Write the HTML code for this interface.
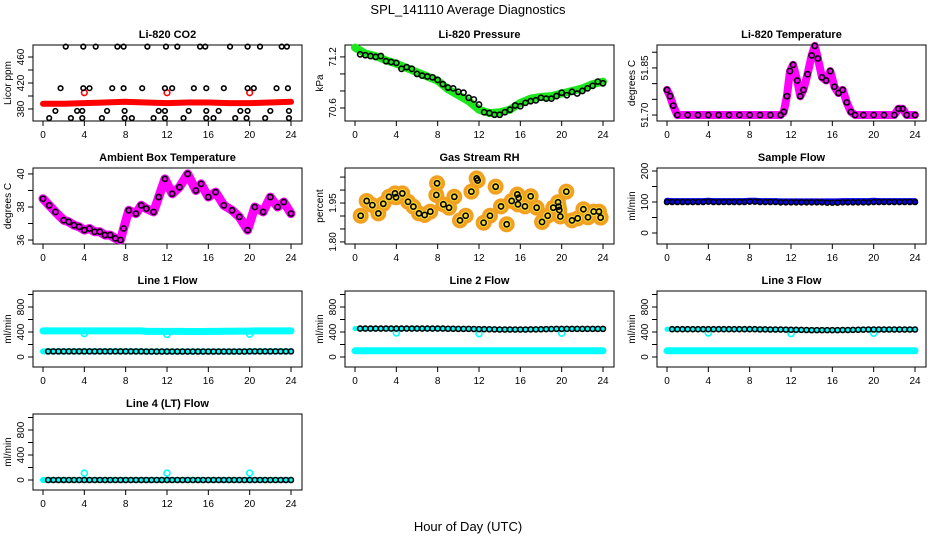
<!DOCTYPE html>
<html><head><meta charset="utf-8">
<style>
html,body{margin:0;padding:0;background:#fff;}
svg{display:block;font-family:"Liberation Sans",sans-serif;}
</style></head>
<body>
<svg id="c" width="936" height="540" viewBox="0 0 936 540" xmlns="http://www.w3.org/2000/svg">
<text x="468" y="14" text-anchor="middle" font-size="13">SPL_141110  Average Diagnostics</text>
<text x="468" y="531" text-anchor="middle" font-size="13">Hour of Day (UTC)</text>
</svg>
<script>
// ---------- data ----------
const xTicks = [0,4,8,12,16,20,24];
const co2RedH = [0,2,4,6,8,10,12,14,16,18,20,22,24];
const co2RedV = [388,388,389,390,391,390,389,390,390,389,389,390,391];
const co2OutH = [4,12,20];
const co2OutV = [405,405,405];
const co2BlkH = [2.2,3.9,5.1,7.2,7.8,10.1,11.9,13.0,15.2,15.7,18.1,19.8,21.0,23.1,23.6,
 1.7,3.9,4.5,6.7,7.8,9.6,11.8,12.5,14.6,15.8,17.5,19.8,20.4,22.6,23.7,
 1.2,3.3,3.8,6.2,7.9,11.2,11.8,14.1,15.8,17.0,19.1,19.8,22.0,23.8,
 0.6,2.7,3.8,5.7,7.9,8.6,10.7,11.8,13.6,15.8,16.5,18.6,19.7,21.5,23.8];
const co2BlkV = [476,476,476,476,476,476,476,476,476,476,476,476,476,476,476,
 412,412,412,412,412,412,412,412,412,412,412,412,412,412,412,
 377,377,377,377,377,377,377,377,377,377,377,377,377,377,
 366,366,366,366,366,366,366,366,366,366,366,366,366,366,366];

const pressH = [0,1,2,3,4,5,6,7,8,9,10,11,12,13,14,15,16,17,18,19,20,21,22,23,24];
const pressV = [71.31,71.24,71.21,71.16,71.12,71.07,71.02,70.97,70.92,70.82,70.75,70.68,70.58,70.54,70.55,70.58,70.66,70.71,70.73,70.74,70.77,70.80,70.83,70.88,70.91];
const pressBH = [0.5,1,1.5,2,2.5,3,3.5,4,4.5,5,5.5,6,6.5,7,7.5,8,8.5,9,9.5,10,10.5,11,11.5,12,12.5,13,13.5,14,14.5,15,15.5,16,16.5,17,17.5,18,18.5,19,19.5,20,20.5,21,21.5,22,22.5,23,23.5,24];
const pressBV = [71.23,71.22,71.21,71.20,71.21,71.15,71.14,71.13,71.06,71.08,71.06,71.00,70.98,70.97,70.96,70.93,70.88,70.84,70.83,70.79,70.78,70.72,70.70,70.64,70.55,70.54,70.52,70.52,70.55,70.58,70.63,70.62,70.66,70.68,70.69,70.72,70.71,70.71,70.74,70.78,70.75,70.79,70.77,70.80,70.83,70.86,70.91,70.89];

const tempH = [0,0.3,0.6,1,2,3,4,5,6,7,8,9,10,11,11.3,11.6,11.9,12.2,12.6,12.9,13.2,13.6,14,14.3,14.6,15,15.4,15.8,16.2,16.6,17,17.4,17.8,18.2,19,20,21,22,22.4,22.8,23.2,24];
const tempV = [51.78,51.76,51.73,51.70,51.70,51.70,51.70,51.70,51.70,51.70,51.70,51.70,51.70,51.70,51.71,51.76,51.84,51.86,51.81,51.76,51.78,51.83,51.89,51.92,51.88,51.82,51.81,51.84,51.79,51.77,51.78,51.74,51.71,51.70,51.70,51.70,51.70,51.70,51.72,51.72,51.70,51.70];

const ambH = [0,0.6,1.2,2,2.5,3,3.5,4,4.5,5,5.5,6,6.5,7,7.5,7.8,8.3,9,9.5,10,10.7,11.2,11.8,12.5,13.2,14,14.8,15.3,16,16.7,17.5,18.3,19,19.8,20.5,21.3,22,22.7,23.3,24];
const ambV = [38.5,38.1,37.7,37.2,37.1,36.9,36.8,36.6,36.7,36.5,36.5,36.3,36.3,36.1,36.0,36.7,37.8,37.6,38.1,37.9,37.7,38.6,39.7,38.8,39.2,40.0,39.0,39.4,38.6,38.9,38.1,37.8,37.4,36.6,38.0,37.7,38.6,38.0,38.3,37.6];

const rhH = [0.55,1.13,1.68,2.26,2.74,3.29,3.87,3.97,4.58,5.13,5.65,6.19,6.74,7.29,7.87,7.94,8.55,9.10,9.61,10.16,10.71,11.26,11.77,11.87,12.45,13.06,13.61,14.13,14.68,15.16,15.71,15.84,15.77,16.45,17.00,17.58,18.10,18.65,19.19,19.65,19.71,19.77,19.87,20.45,21.00,21.55,22.10,22.55,23.10,23.61,23.77];
const rhV = [1.901,1.958,1.942,1.910,1.947,1.974,1.987,1.972,1.987,1.955,1.936,1.910,1.904,1.917,1.981,2.026,1.945,1.932,1.974,1.883,1.901,1.994,2.045,2.037,1.874,1.901,2.013,1.937,1.868,1.958,1.983,1.970,1.945,1.937,1.976,1.932,1.877,1.901,1.932,1.953,1.936,1.923,1.898,1.994,1.883,1.891,1.926,1.895,1.917,1.917,1.894];

const flowH = [0,0.5,1,1.5,2,2.5,3,3.5,4,4.5,5,5.5,6,6.5,7,7.5,8,8.5,9,9.5,10,10.5,11,11.5,12,12.5,13,13.5,14,14.5,15,15.5,16,16.5,17,17.5,18,18.5,19,19.5,20,20.5,21,21.5,22,22.5,23,23.5,24];
const sampleBlue = [104,103,103,103,103,103,103,103,104,103,103,103,103,103,103,103,104,104,103,103,103,103,102,102,102,102,102,102,102,102,102,102,102,102,103,103,103,103,103,103,104,103,103,103,103,103,103,103,103];
const sampleBlack = [100,100,100,100,100,100,100,100,101,100,100,100,100,100,100,100,101,101,100,100,100,100,99,99,99,99,99,99,99,99,99,98,98,98,99,99,99,99,99,99,100,100,100,100,100,100,100,100,100];
const line1Cyan = [418,418,418,418,418,418,418,418,418,418,418,418,418,418,418,418,418,418,418,418,410,410,410,410,410,410,410,410,408,408,408,408,410,410,410,412,412,412,415,415,415,418,418,418,418,418,418,418,418];
const line1Black = [90,90,90,90,90,90,90,90,90,90,90,90,90,90,90,90,90,90,90,90,88,88,88,88,88,88,88,88,88,88,88,88,88,88,88,88,88,88,88,88,90,90,90,90,90,90,90,90,90];
const line2Black = [455,455,455,455,455,455,455,455,455,455,455,455,455,455,455,455,455,455,452,452,450,450,450,448,446,445,444,442,440,440,440,440,440,440,442,442,444,446,448,450,450,450,450,450,450,450,450,450,450];
const line2Cyan = [100,100,100,100,100,100,100,100,100,100,100,100,100,100,100,100,100,100,100,100,100,100,100,100,100,100,100,100,100,100,100,100,100,100,100,100,100,100,100,100,100,100,100,100,100,100,100,100,100];
const line3Black = [445,445,445,445,445,445,445,445,445,445,445,445,445,445,445,445,445,445,442,442,440,440,440,438,436,435,434,432,430,430,430,430,430,430,432,432,434,436,438,440,440,440,440,440,440,440,440,440,440];
const line3Cyan = [100,100,100,100,100,100,100,100,100,100,100,100,100,100,100,100,100,100,100,100,100,100,100,100,100,100,100,100,100,100,100,100,100,100,100,100,100,100,100,100,100,100,100,100,100,100,100,100,100];
const line4Black = [0,0,0,0,0,0,0,0,0,0,0,0,0,0,0,0,0,0,0,0,0,0,0,0,0,0,0,0,0,0,0,0,0,0,0,0,0,0,0,0,0,0,0,0,0,0,0,0,0];
const flowOutH = [4,12,20];
const line1Out = [375,360,365];
const line2Out = [385,375,380];
const line3Out = [385,375,380];
const line4Out = [110,110,110];

// ---------- drawing ----------
const svg = document.getElementById('c');
const NS = 'http://www.w3.org/2000/svg';
const colL = [33,345,657], rowT = [45,168,291,414], BW = 269, BH = 76;
function mk(tag, attrs){const e=document.createElementNS(NS,tag);for(const k in attrs)e.setAttribute(k,attrs[k]);return e;}

function panel(col,row,name,title,ylab,vTop,vBot,ticks,labels){
  const L=colL[col], T=rowT[row];
  const g=mk('g',{});
  
  
  svg.appendChild(g);
  const xs=h=>L+10+h*248/24;
  const ys=v=>T+(vTop-v)/(vTop-vBot)*BH;
  const box=mk('rect',{x:L,y:T,width:BW,height:BH,fill:'none',stroke:'#000','stroke-width':1});
  
  
  g.appendChild(box);
  const t=mk('text',{x:L+BW/2,y:T-7,'text-anchor':'middle','font-size':11,'font-weight':'bold'});
  t.textContent=title;
  
  
  g.appendChild(t);
  const xa=mk('g',{});
  
  
  g.appendChild(xa);
  for(const h of xTicks){
    xa.appendChild(mk('line',{x1:xs(h),x2:xs(h),y1:T+BH,y2:T+BH+5,stroke:'#000'}));
    const tl=mk('text',{x:xs(h),y:T+BH+17,'text-anchor':'middle','font-size':10});
    tl.textContent=h;
    
    
    xa.appendChild(tl);
  }
  const ya=mk('g',{});
  
  
  g.appendChild(ya);
  ya.appendChild(mk('line',{x1:L,x2:L,y1:ys(ticks[0]),y2:ys(ticks[ticks.length-1]),stroke:'#000'}));
  for(const v of ticks){
    ya.appendChild(mk('line',{x1:L-5,x2:L,y1:ys(v),y2:ys(v),stroke:'#000'}));
  }
  for(const lb of labels){
    const y=ys(parseFloat(lb));
    const tl=mk('text',{x:L-9,y:y,'text-anchor':'middle','font-size':10,transform:`rotate(-90 ${L-9} ${y})`});
    tl.textContent=lb;
    
    
    ya.appendChild(tl);
  }
  const yt=mk('text',{x:L-22,y:T+BH/2,'text-anchor':'middle','font-size':10,transform:`rotate(-90 ${L-22} ${T+BH/2})`});
  yt.textContent=ylab;
  
  
  g.appendChild(yt);
  const clip='clip-'+name;
  const cp=mk('clipPath',{id:clip});cp.appendChild(mk('rect',{x:L,y:T-6,width:BW,height:BH+12}));g.appendChild(cp);
  const dg=mk('g',{'clip-path':`url(#${clip})`});g.appendChild(dg);
  return {xs,ys,g:dg};
}
function band(p,H,V,color,w,name){
  const pts=H.map((h,i)=>p.xs(h).toFixed(1)+','+p.ys(V[i]).toFixed(1)).join(' ');
  const pl=mk('polyline',{points:pts,fill:'none',stroke:color,'stroke-width':w,'stroke-linejoin':'round','stroke-linecap':'round'});
  
  
  p.g.appendChild(pl);
}
function circles(p,H,V,color,r,name,fill){
  const gg=mk('g',{});
  
  
  p.g.appendChild(gg);
  H.forEach((h,i)=>{
    const c=mk('circle',{cx:p.xs(h),cy:p.ys(V[i]),r:r,fill:fill||'none',stroke:fill?'none':color,'stroke-width':1.6});
    
    
    gg.appendChild(c);
  });
}
const flowTicks=[0,200,400,600,800,1000], flowLabels=['0','400','800'];

let p=panel(0,0,'co2','Li-820 CO2','Licor ppm',478.5,361.5,[380,400,420,440,460],['380','420','460']);
band(p,co2RedH,co2RedV,'#f00',6,'co2-red-series');
circles(p,co2OutH,co2OutV,'#f00',2.8,'co2-red-outliers');
circles(p,co2BlkH,co2BlkV,'#000',2.3,'co2-black-series');

p=panel(1,0,'pressure','Li-820 Pressure','kPa',71.34,70.447,[70.6,70.8,71.0,71.2],['70.6','71.2']);
band(p,pressH,pressV,'#1ee61e',8,'pressure-green-series');
circles(p,pressBH,pressBV,'#000',2.6,'pressure-black-series');

p=panel(2,0,'li-temp','Li-820 Temperature','degrees C',51.923,51.681,[51.70,51.75,51.80,51.85,51.90],['51.70','51.85']);
band(p,tempH,tempV,'#f0f',8,'li-temp-magenta-series');
circles(p,tempH,tempV,'#000',2.6,'li-temp-black-series');

p=panel(0,1,'ambient','Ambient Box Temperature','degrees C',40.36,35.76,[36,37,38,39,40],['36','38','40']);
band(p,ambH,ambV,'#f0f',9,'ambient-magenta-series');
circles(p,ambH,ambV,'#000',2.6,'ambient-black-series');

p=panel(1,1,'rh','Gas Stream RH','percent',2.085,1.792,[1.80,1.85,1.90,1.95,2.00,2.05],['1.80','1.95']);
circles(p,rhH,rhV,'#f2a61c',8,'rh-orange-series','#f2a020');
circles(p,rhH,rhV,'#f5d020',4.5,'rh-yellow-series','#f5d830');
circles(p,rhH,rhV,'#000',2.6,'rh-black-series');

p=panel(2,1,'sample-flow','Sample Flow','ml/min',209.7,-35.5,[0,50,100,150,200],['0','100','200']);
band(p,flowH,sampleBlue,'#0000ff',6,'sample-flow-blue-series');
circles(p,flowH,sampleBlack,'#000',2.5,'sample-flow-black-series');

p=panel(0,2,'line1-flow','Line 1 Flow','ml/min',1056,-160,flowTicks,flowLabels);
band(p,flowH,line1Cyan,'#00ffff',7,'line1-cyan-series');
circles(p,flowOutH,line1Out,'#00ffff',3,'line1-cyan-outliers');
band(p,flowH,line1Black,'#00ffff',6,'line1-cyan-low-series');
circles(p,flowH.slice(1),line1Black.slice(1),'#000',2.5,'line1-black-series');

p=panel(1,2,'line2-flow','Line 2 Flow','ml/min',1056,-160,flowTicks,flowLabels);
band(p,flowH,line2Cyan,'#00ffff',7,'line2-cyan-low-series');
band(p,flowH,line2Black,'#00ffff',5,'line2-cyan-high-series');
circles(p,flowOutH,line2Out,'#00ffff',3,'line2-cyan-outliers');
circles(p,flowH.slice(1),line2Black.slice(1),'#000',2.5,'line2-black-series');

p=panel(2,2,'line3-flow','Line 3 Flow','ml/min',1056,-160,flowTicks,flowLabels);
band(p,flowH,line3Cyan,'#00ffff',7,'line3-cyan-low-series');
band(p,flowH,line3Black,'#00ffff',5,'line3-cyan-high-series');
circles(p,flowOutH,line3Out,'#00ffff',3,'line3-cyan-outliers');
circles(p,flowH.slice(1),line3Black.slice(1),'#000',2.5,'line3-black-series');

p=panel(0,3,'line4-flow','Line 4 (LT) Flow','ml/min',1056,-160,flowTicks,flowLabels);
band(p,flowH,line4Black,'#00ffff',6,'line4-cyan-series');
circles(p,flowOutH,line4Out,'#00ffff',3,'line4-cyan-outliers');
circles(p,flowH.slice(1),line4Black.slice(1),'#000',2.5,'line4-black-series');
</script>
</body></html>
